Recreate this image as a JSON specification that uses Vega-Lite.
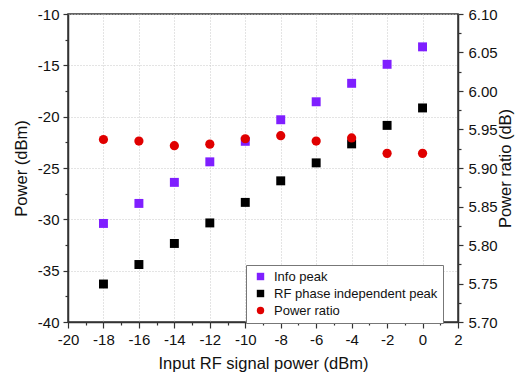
{
  "$schema": "https://vega.github.io/schema/vega-lite/v6.json",
  "width": 390,
  "height": 308,
  "autosize": "none",
  "padding": {"left": 68, "top": 14, "right": 58, "bottom": 54},
  "config": {
    "font": "Liberation Sans",
    "view": {"stroke": "#333", "strokeWidth": 1.5},
    "axis": {
      "domainColor": "#333",
      "domainWidth": 1.5,
      "tickColor": "#333",
      "tickWidth": 1.2,
      "labelFontSize": 15,
      "labelColor": "#111",
      "titleFontSize": 16.5,
      "titleFontWeight": "normal",
      "titleColor": "#111",
      "gridColor": "#c8c8c8",
      "gridDash": [1, 2],
      "gridWidth": 1
    }
  },
  "data": {
    "values": [
      {"input": -18, "series": "Info peak", "value": -30.4},
      {"input": -16, "series": "Info peak", "value": -28.45},
      {"input": -14, "series": "Info peak", "value": -26.4},
      {"input": -12, "series": "Info peak", "value": -24.4},
      {"input": -10, "series": "Info peak", "value": -22.4},
      {"input": -8, "series": "Info peak", "value": -20.3},
      {"input": -6, "series": "Info peak", "value": -18.55},
      {"input": -4, "series": "Info peak", "value": -16.75},
      {"input": -2, "series": "Info peak", "value": -14.9},
      {"input": 0, "series": "Info peak", "value": -13.2},
      {"input": -18, "series": "RF phase independent peak", "value": -36.3},
      {"input": -16, "series": "RF phase independent peak", "value": -34.4},
      {"input": -14, "series": "RF phase independent peak", "value": -32.35},
      {"input": -12, "series": "RF phase independent peak", "value": -30.35},
      {"input": -10, "series": "RF phase independent peak", "value": -28.35},
      {"input": -8, "series": "RF phase independent peak", "value": -26.25},
      {"input": -6, "series": "RF phase independent peak", "value": -24.5},
      {"input": -4, "series": "RF phase independent peak", "value": -22.65},
      {"input": -2, "series": "RF phase independent peak", "value": -20.85},
      {"input": 0, "series": "RF phase independent peak", "value": -19.15},
      {"input": -18, "series": "Power ratio", "value": 5.937},
      {"input": -16, "series": "Power ratio", "value": 5.935},
      {"input": -14, "series": "Power ratio", "value": 5.929},
      {"input": -12, "series": "Power ratio", "value": 5.931},
      {"input": -10, "series": "Power ratio", "value": 5.938},
      {"input": -8, "series": "Power ratio", "value": 5.942},
      {"input": -6, "series": "Power ratio", "value": 5.935},
      {"input": -4, "series": "Power ratio", "value": 5.939},
      {"input": -2, "series": "Power ratio", "value": 5.919},
      {"input": 0, "series": "Power ratio", "value": 5.919}
    ]
  },
  "encoding": {
    "x": {
      "field": "input",
      "type": "quantitative",
      "scale": {"domain": [-20, 2], "nice": false},
      "axis": {
        "title": "Input RF signal power (dBm)",
        "values": [-20, -19, -18, -17, -16, -15, -14, -13, -12, -11, -10, -9, -8, -7, -6, -5, -4, -3, -2, -1, 0, 1, 2],
        "labelExpr": "datum.value % 2 === 0 ? '' + datum.value : ''",
        "tickSize": {"condition": {"test": "datum.value % 2 !== 0", "value": 3}, "value": 6},
        "grid": true,
        "gridOpacity": {"condition": {"test": "datum.value % 2 !== 0", "value": 0}, "value": 1},
        "labelPadding": 4,
        "titlePadding": 8,
        "labelFlush": false
      }
    },
    "color": {
      "field": "series",
      "type": "nominal",
      "scale": {
        "domain": ["Info peak", "RF phase independent peak", "Power ratio"],
        "range": ["#7f1fff", "#000000", "#e00000"]
      },
      "legend": {
        "title": null,
        "orient": "none",
        "legendX": 178,
        "legendY": 251,
        "strokeColor": "#777",
        "fillColor": "white",
        "padding": 5,
        "symbolOffset": 3,
        "labelOffset": 7,
        "labelFontSize": 13,
        "labelLimit": 0,
        "labelColor": "#111",
        "symbolSize": 55,
        "rowPadding": 2,
        "symbolOpacity": 1
      }
    },
    "shape": {
      "field": "series",
      "type": "nominal",
      "scale": {
        "domain": ["Info peak", "RF phase independent peak", "Power ratio"],
        "range": ["square", "square", "circle"]
      },
      "legend": {
        "title": null,
        "orient": "none",
        "legendX": 178,
        "legendY": 251
      }
    }
  },
  "layer": [
    {
      "transform": [{"filter": "datum.series !== 'Power ratio'"}],
      "mark": {"type": "point", "filled": true, "opacity": 1, "size": 80},
      "encoding": {
        "y": {
          "field": "value",
          "type": "quantitative",
          "scale": {"domain": [-40, -10], "nice": false},
          "axis": {
            "title": "Power (dBm)",
            "orient": "left",
            "values": [-40, -37.5, -35, -32.5, -30, -27.5, -25, -22.5, -20, -17.5, -15, -12.5, -10],
            "labelExpr": "datum.value % 5 === 0 ? '' + datum.value : ''",
            "tickSize": {"condition": {"test": "datum.value % 5 !== 0", "value": 3}, "value": 5},
            "grid": true,
            "gridOpacity": {"condition": {"test": "datum.value % 5 !== 0", "value": 0}, "value": 1},
            "labelPadding": 4,
            "titlePadding": 8,
            "labelFlush": false
          }
        }
      }
    },
    {
      "transform": [{"filter": "datum.series === 'Power ratio'"}],
      "mark": {"type": "point", "filled": true, "opacity": 1, "size": 85},
      "encoding": {
        "y": {
          "field": "value",
          "type": "quantitative",
          "scale": {"domain": [5.7, 6.1], "nice": false, "zero": false},
          "axis": {
            "title": "Power ratio (dB)",
            "orient": "right",
            "titleAngle": 270,
            "titleBaseline": "top",
            "values": [5.7, 5.725, 5.75, 5.775, 5.8, 5.825, 5.85, 5.875, 5.9, 5.925, 5.95, 5.975, 6.0, 6.025, 6.05, 6.075, 6.1],
            "labelExpr": "abs(round(datum.value * 1000) % 50) === 0 ? format(datum.value, '.2f') : ''",
            "tickSize": {"condition": {"test": "abs(round(datum.value * 1000) % 50) !== 0", "value": 3}, "value": 5},
            "grid": false,
            "labelPadding": 5,
            "titlePadding": 0,
            "labelFlush": false
          }
        }
      }
    }
  ],
  "resolve": {"scale": {"y": "independent"}}
}
